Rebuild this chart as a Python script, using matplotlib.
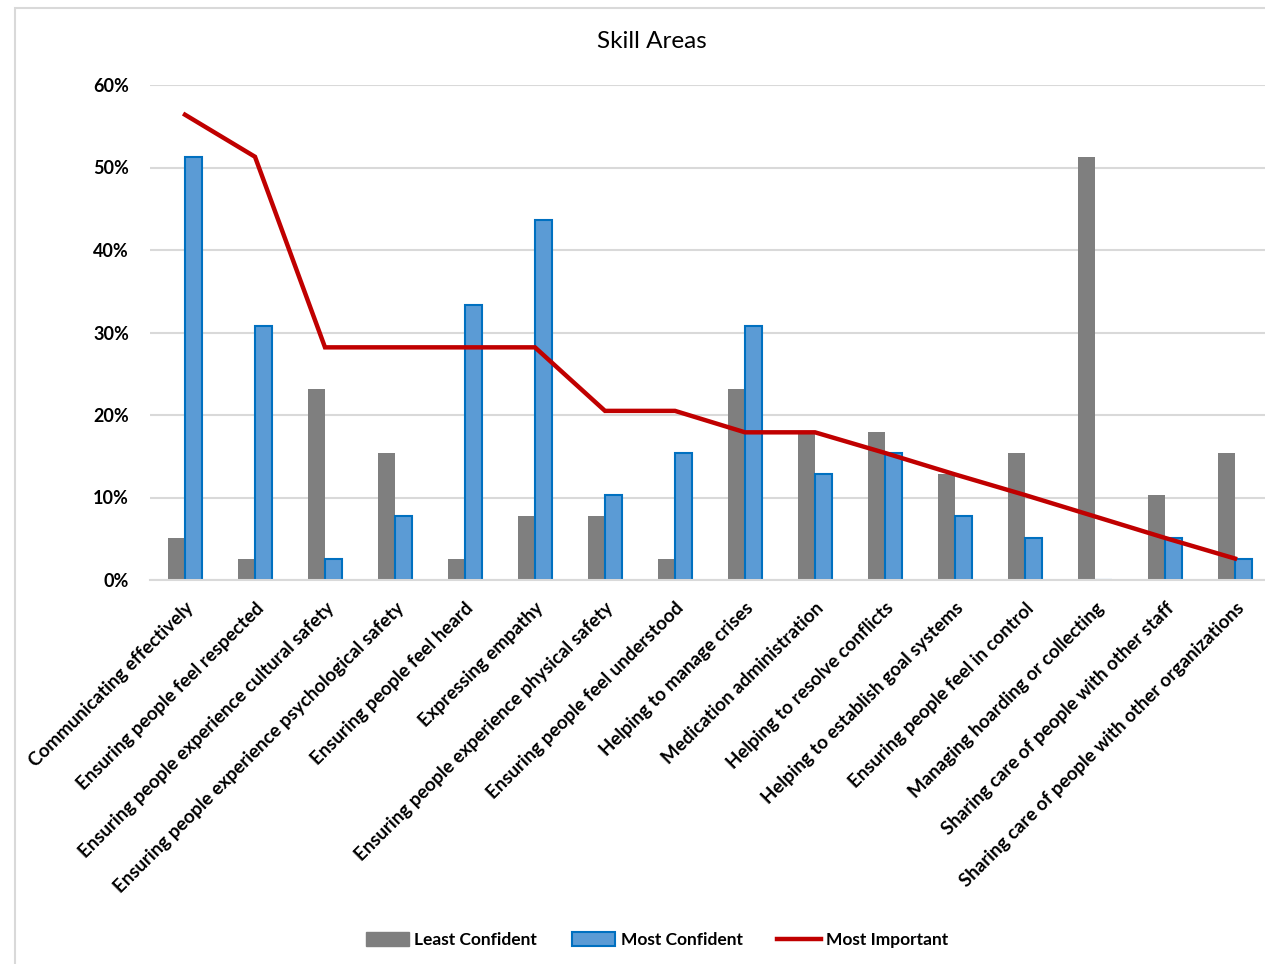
import matplotlib
matplotlib.use("Agg")
import matplotlib.pyplot as plt
from matplotlib.patches import Rectangle
from matplotlib.lines import Line2D
from matplotlib.ticker import FuncFormatter
import numpy as np

categories = [
    "Communicating effectively",
    "Ensuring people feel respected",
    "Ensuring people experience cultural safety",
    "Ensuring people experience psychological safety",
    "Ensuring people feel heard",
    "Expressing empathy",
    "Ensuring people experience physical safety",
    "Ensuring people feel understood",
    "Helping to manage crises",
    "Medication administration",
    "Helping to resolve conflicts",
    "Helping to establish goal systems",
    "Ensuring people feel in control",
    "Managing hoarding or collecting",
    "Sharing care of people with other staff",
    "Sharing care of people with other organizations",
]
least_confident = [5.1, 2.6, 23.1, 15.4, 2.6, 7.7, 7.7, 2.6, 23.1, 17.9, 17.9, 12.8, 15.4, 51.3, 10.3, 15.4]
most_confident = [51.3, 30.8, 2.6, 7.7, 33.3, 43.6, 10.3, 15.4, 30.8, 12.8, 15.4, 7.7, 5.1, 0.0, 5.1, 2.6]
most_important = [56.4, 51.3, 28.2, 28.2, 28.2, 28.2, 20.5, 20.5, 17.9, 17.9, 15.4, 12.8, 10.3, 7.7, 5.1, 2.6]
yticks = [0, 10, 20, 30, 40, 50, 60]

GRAY = "#7F7F7F"
BLUE = "#5B9BD5"
BLUE_EDGE = "#0070C0"
RED = "#C00000"
GRID = "#D9D9D9"
FONT = ["Lato", "DejaVu Sans"]

plt.rcParams["font.family"] = FONT

W, H = 1265, 964
fig = plt.figure(figsize=(W / 100, H / 100), dpi=100)

# chart area border
fig.patches.append(Rectangle((15 / W, -0.01), 1.2, 1 - 8 / H + 0.01, transform=fig.transFigure,
                             fill=False, edgecolor=GRID, linewidth=1.5, zorder=0))

left, right = 150 / W, 1270 / W
bottom, top = 1 - 580 / H, 1 - 85 / H
ax = fig.add_axes([left, bottom, right - left, top - bottom])

x = np.arange(len(categories))
w = 0.236
ax.bar(x - w / 2, least_confident, width=w, color=GRAY, edgecolor=GRAY, linewidth=0, zorder=2,
       label="Least Confident")
ax.bar(x + w / 2, most_confident, width=w, color=BLUE, edgecolor=BLUE_EDGE, linewidth=1.5, zorder=2,
       label="Most Confident")
ax.plot(x, most_important, color=RED, linewidth=3.2, zorder=3, solid_joinstyle="miter",
        label="Most Important")

ax.set_xlim(-0.5, len(categories) - 0.5)
ax.set_ylim(0, 60)
ax.set_yticks(yticks)
ax.yaxis.set_major_formatter(FuncFormatter(lambda v, p: f"{int(v)}%"))
ax.grid(axis="y", color=GRID, linewidth=1.5, zorder=0)
ax.set_axisbelow(True)
for s in ["top", "right", "left"]:
    ax.spines[s].set_visible(False)
ax.spines["bottom"].set_color(GRID)
ax.spines["bottom"].set_linewidth(1.5)
ax.tick_params(axis="y", length=0, pad=15, labelsize=13)
ax.tick_params(axis="x", length=0, pad=14)
for lbl in ax.get_yticklabels():
    lbl.set_fontweight("bold")

ax.set_xticks(x)
ax.set_xticklabels(categories, rotation=45, ha="right", rotation_mode="anchor",
                   fontsize=13.5, fontweight="bold")

fig.text(652 / W, 1 - 42 / H, "Skill Areas", ha="center", va="center", fontsize=17.5)

handles = [
    Rectangle((0, 0), 1, 1, facecolor=GRAY, edgecolor=GRAY),
    Rectangle((0, 0), 1, 1, facecolor=BLUE, edgecolor=BLUE_EDGE, linewidth=1.5),
    Line2D([0], [0], color=RED, linewidth=3.2),
]
fig.legend(handles, ["Least Confident", "Most Confident", "Most Important"],
           loc="center", bbox_to_anchor=(657 / W, 1 - 940 / H), ncol=3, frameon=False,
           prop={"family": FONT, "weight": "bold", "size": 12.5},
           handlelength=2.5, handleheight=0.8, handletextpad=0.3, columnspacing=2.0)

fig.savefig("out.png", dpi=100, facecolor="white")
